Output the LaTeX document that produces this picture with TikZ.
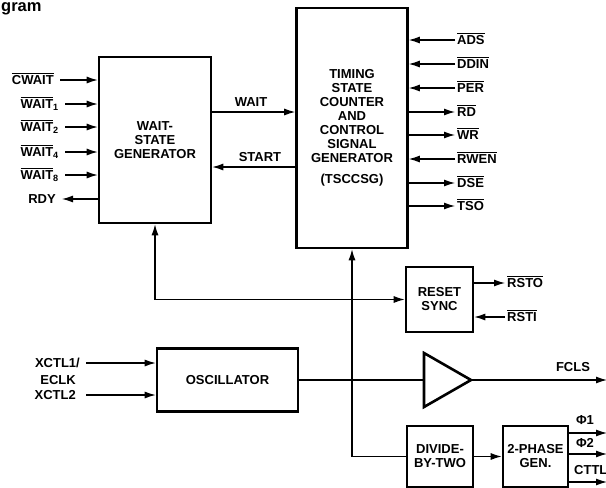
\documentclass[tikz,border=0pt]{standalone}
\usepackage{fontspec}
\setmainfont{Liberation Sans}
\usetikzlibrary{arrows.meta}
\newcommand{\ovl}[1]{\leavevmode\vbox{\hrule height 1pt\kern 1.6pt\hbox{#1}}}
\tikzset{
  blk/.style={draw, line width=2.6pt, align=center, inner sep=0pt},
  wire/.style={line width=1.2pt},
  sig/.style={wire, -{Latex[length=11pt,width=7pt]}},
  lbl/.style={inner sep=2pt, text height=9pt, text depth=0pt}
}
\begin{document}
\begin{tikzpicture}[x=1pt, y=-1pt, font=\bfseries\fontsize{13}{14}\selectfont]
        \clip (0,0) rectangle (606,488);
        \node[anchor=base west, inner sep=0pt, text height=9pt, text depth=3.5pt,
              font=\bfseries\fontsize{16.5}{17}\selectfont] (ttl) at (1,11) {gram};
        \node[blk, minimum width=112pt, minimum height=166pt] (wsg) at (155,140) {WAIT-\\STATE\\GENERATOR};
        \node[blk, minimum width=111pt, minimum height=240pt] (ts) at (352,128)
              {TIMING\\STATE\\COUNTER\\AND\\CONTROL\\SIGNAL\\GENERATOR\\[7pt](TSCCSG)};
        \node[blk, minimum width=67pt, minimum height=65pt] (rs) at (439.5,299.5) {RESET\\SYNC};
        \node[blk, minimum width=141pt, minimum height=63pt] (osc) at (227.5,380) {OSCILLATOR};
        \node[blk, minimum width=66pt, minimum height=61pt] (div) at (440,456.5) {DIVIDE-\\BY-TWO};
        \node[blk, minimum width=65pt, minimum height=61pt] (ph) at (535.5,456.5) {2-PHASE\\GEN.};
        \foreach \y/\xs/\nm/\txt in {80/56/cw/\ovl{CWAIT}, 104/61/wa/\ovl{WAIT}\textsubscript{1},
                                   127/61/wb/\ovl{WAIT}\textsubscript{2}, 152/61/wc/\ovl{WAIT}\textsubscript{4},
                                   175/61/wd/\ovl{WAIT}\textsubscript{8}} {
          \node[lbl, anchor=east] (\nm) at (\xs,\y) {\txt};
          \draw[sig] ([xshift=4pt]\nm.east) -- (\nm -| wsg.west);
        }
        \node[lbl, anchor=east] (rdy) at (58,199) {RDY};
        \draw[sig] (rdy -| wsg.west) -- ([xshift=4pt]rdy.east);
        \foreach \y/\nm/\txt in {40/ads/ADS, 64/ddin/DDIN, 88/per/PER, 159/rwen/RWEN} {
          \node[lbl, anchor=west] (\nm) at (455,\y) {\ovl{\txt}};
          \draw[sig] (\nm.west) -- (\nm -| ts.east);
        }
        \foreach \y/\nm/\txt in {112/rd/RD, 135/wr/WR, 183/dse/DSE, 206/tso/TSO} {
          \node[lbl, anchor=west] (\nm) at (455,\y) {\ovl{\txt}};
          \draw[sig] (\nm -| ts.east) -- (\nm.west);
        }
        \node[lbl] (wt) at (251,102) {WAIT};
        \node[lbl] (st) at (260,157) {START};
        \draw[sig] (wsg.east |- 0,112) -- (ts.west |- 0,112);
        \draw[sig] (ts.west |- 0,167) -- (wsg.east |- 0,167);
        \draw[wire, {Latex[length=11pt,width=7pt]}-{Latex[length=11pt,width=7pt]}] (wsg.south) |- (rs.west);
        \draw[sig] (div.west) -| (ts.south);
        \node[lbl, anchor=west] (ro) at (505,283) {\ovl{RSTO}};
        \node[lbl, anchor=west] (ri) at (505,317) {\ovl{RSTI}};
        \draw[sig] (ro -| rs.east) -- (ro.west);
        \draw[sig] (ri.west) -- (ri -| rs.east);
        \node[lbl, anchor=east] (xa) at (82,363) {XCTL1/};
        \node[lbl, anchor=east] (ek) at (78,380) {ECLK};
        \node[lbl, anchor=east] (xb) at (78,395) {XCTL2};
        \draw[sig] (xa -| 86,0) -- (xa -| osc.west);
        \draw[sig] (xb -| 86,0) -- (xb -| osc.west);
        \coordinate (bufin) at (424,380);
        \coordinate (bufout) at (471,380);
        \draw[line width=2.6pt] (424,353) -- (bufout) -- (424,407) -- cycle;
        \draw[wire] (osc.east) -- (bufin);
        \node[lbl] (fcls) at (573,367) {FCLS};
        \draw[sig] (bufout) -- (607,380);
        \draw[sig] (div.east) -- (ph.west);
        \node[lbl] (pa) at (585,420) {Φ1};
        \node[lbl] (pb) at (585,443) {Φ2};
        \node[lbl, anchor=west] (ct) at (572,470) {CTTL};
        \foreach \y in {433,454,482} {
          \draw[sig] (ph.east |- 0,\y) -- (607,\y);
        }
      \end{tikzpicture}
\end{document}
